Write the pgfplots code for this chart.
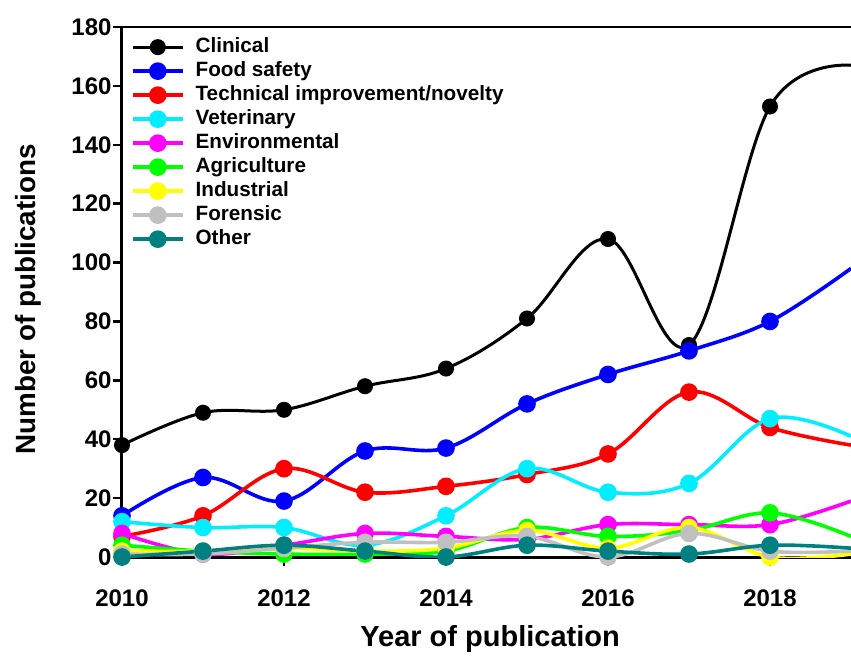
\documentclass[border=0pt]{standalone}
\usepackage{fontspec}
\setmainfont{Liberation Sans}
\usepackage{pgfplots}
\pgfplotsset{compat=1.18}
\definecolor{cClin}{RGB}{0,0,0}
\definecolor{cFood}{RGB}{0,0,255}
\definecolor{cTech}{RGB}{255,0,0}
\definecolor{cVet}{RGB}{0,238,255}
\definecolor{cEnv}{RGB}{255,0,255}
\definecolor{cAgri}{RGB}{0,255,0}
\definecolor{cInd}{RGB}{255,255,0}
\definecolor{cFor}{RGB}{192,192,192}
\definecolor{cOth}{RGB}{0,128,128}
\begin{document}
\begin{tikzpicture}
\begin{axis}[
  scale only axis, width=729pt, height=530pt,
  xmin=2010, xmax=2019, ymin=0, ymax=180,
  axis x line*=bottom, axis y line*=left,
  axis line style={line width=3pt, -},
  xtick={2010,2012,2014,2016,2018},
  ytick={0,20,...,180},
  tick align=outside, major tick length=9pt,
  tick style={line width=2.5pt, black},
  /pgf/number format/assume math mode=true,
  xticklabel style={/pgf/number format/1000 sep={}, font=\bfseries\fontsize{24}{26}\selectfont, yshift=-20pt},
  yticklabel style={font=\bfseries\fontsize{24}{26}\selectfont, xshift=2pt},
  xlabel={Year of publication}, ylabel={Number of publications},
  every axis x label/.style={at={(axis description cs:0.505,-0.155)}, anchor=center, font=\bfseries\fontsize{29}{31}\selectfont},
  every axis y label/.style={at={(axis description cs:-0.128,0.486)}, rotate=90, anchor=center, font=\bfseries\fontsize{27.8}{30}\selectfont},
  clip=true,
  every axis plot/.append style={smooth, tension=0.6, line width=3.6pt, mark=*, mark indices={1,2,3,4,5,6,7,8,9}, mark size=7pt, mark options={solid}},
  legend image code/.code={\draw[mark indices={2}] plot coordinates {(0pt,0pt) (25pt,0pt) (50pt,0pt)};},
  legend cell align=left,
  legend style={draw=none, fill=none, at={(axis description cs:0.008,0.985)}, anchor=north west,
    font=\bfseries\fontsize{20.7}{21}\selectfont, row sep=4pt, column sep=8pt,
    nodes={text height=15pt, text depth=5pt, inner sep=0pt, inner xsep=3pt}},
]
\coordinate (tl) at (rel axis cs:0,1);
\coordinate (br) at (rel axis cs:1,0);
\addplot[color=cClin, line width=3pt, mark size=6.5pt] coordinates {(2010,38)(2011,49)(2012,50)(2013,58)(2014,64)(2015,81)(2016,108)(2017,72)(2018,153)(2019,167)};
\addlegendentry{Clinical}
\addplot[color=cFood] coordinates {(2010,14)(2011,27)(2012,19)(2013,36)(2014,37)(2015,52)(2016,62)(2017,70)(2018,80)(2019,98)};
\addlegendentry{Food safety}
\addplot[color=cTech] coordinates {(2010,7)(2011,14)(2012,30)(2013,22)(2014,24)(2015,28)(2016,35)(2017,56)(2018,44)(2019,38)};
\addlegendentry{Technical improvement/novelty}
\addplot[color=cVet] coordinates {(2010,12)(2011,10)(2012,10)(2013,4)(2014,14)(2015,30)(2016,22)(2017,25)(2018,47)(2019,41)};
\addlegendentry{Veterinary}
\addplot[color=cEnv] coordinates {(2010,8)(2011,1)(2012,4)(2013,8)(2014,7)(2015,6)(2016,11)(2017,11)(2018,11)(2019,19)};
\addlegendentry{Environmental}
\addplot[color=cAgri] coordinates {(2010,4)(2011,2)(2012,1)(2013,1)(2014,2)(2015,10)(2016,7)(2017,9)(2018,15)(2019,7)};
\addlegendentry{Agriculture}
\addplot[color=cInd] coordinates {(2010,2)(2011,2)(2012,3)(2013,2)(2014,3)(2015,9)(2016,3)(2017,10)(2018,0)(2019,1)};
\addlegendentry{Industrial}
\addplot[color=cFor] coordinates {(2010,1)(2011,1)(2012,3)(2013,5)(2014,5)(2015,7)(2016,0)(2017,8)(2018,2)(2019,2)};
\addlegendentry{Forensic}
\addplot[color=cOth] coordinates {(2010,0)(2011,2)(2012,4)(2013,2)(2014,0)(2015,4)(2016,2)(2017,1)(2018,4)(2019,3)};
\addlegendentry{Other}
\end{axis}
\draw[line width=2.5pt] (tl) -- (tl -| br);
\pgfresetboundingbox
\path (tl) ++(-122pt,27pt) rectangle ++(851pt,-657pt);
\end{tikzpicture}
\end{document}
